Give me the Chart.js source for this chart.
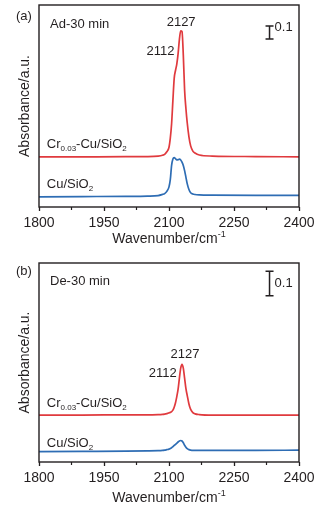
<!DOCTYPE html>
<html><head><meta charset="utf-8">
<script src="https://cdn.jsdelivr.net/npm/chart.js@4/dist/chart.umd.min.js"></script>
<style>
html,body{margin:0;padding:0;background:#fff;}
#wrap{position:relative;width:335px;height:513px;overflow:hidden;}
.pc{position:absolute;left:0;width:335px;}
</style></head><body>
<div id="wrap">
<div class="pc" style="top:0;height:250px"><canvas id="ca"></canvas></div>
<div class="pc" style="top:250px;height:263px"><canvas id="cb"></canvas></div>
</div>
<script>
// ---- data ----
const wavenumbers = [1800,1900,2000,2050,2075,2085,2090,2095,2100,2103,2106,2109,2112,2115,2118,2121,2124,2127,2130,2133,2136,2139,2142,2146,2150,2155,2160,2170,2200,2300,2400];
const adCrCu = [0.385,0.386,0.387,0.388,0.392,0.398,0.405,0.425,0.46,0.53,0.64,0.82,0.99,1.05,1.10,1.18,1.29,1.355,1.35,1.17,0.90,0.76,0.65,0.54,0.47,0.43,0.415,0.40,0.392,0.388,0.386];
const adCu   = [0.078,0.080,0.082,0.084,0.088,0.097,0.103,0.12,0.155,0.21,0.32,0.37,0.38,0.372,0.362,0.364,0.368,0.362,0.345,0.32,0.28,0.23,0.18,0.135,0.11,0.10,0.096,0.093,0.091,0.090,0.090];
const deCrCu = [0.190,0.190,0.191,0.191,0.192,0.193,0.194,0.196,0.199,0.201,0.204,0.21,0.222,0.24,0.265,0.295,0.34,0.38,0.396,0.38,0.34,0.298,0.27,0.235,0.213,0.20,0.195,0.192,0.190,0.190,0.190];
const deCu   = [0.042,0.043,0.044,0.045,0.046,0.047,0.048,0.050,0.052,0.055,0.058,0.062,0.067,0.071,0.076,0.081,0.085,0.087,0.085,0.078,0.068,0.060,0.054,0.050,0.048,0.047,0.047,0.047,0.047,0.047,0.048];
const xTickValues = [1800,1950,2100,2250,2400];
const xMinorTicks = [1875,2025,2175,2325];
const sampleNames = ['Cr0.03-Cu/SiO2','Cu/SiO2'];
const peakLabels = ['2127','2112'];

// ---- style ----
const FAMILY = '"Liberation Sans", Arial, Helvetica, sans-serif';
const FS = 13;     // annotation text
const FSA = 14;    // axis text
const TXT = '#231f20';
const RED = '#e03a3e';
const BLUE = '#2e6db4';
Chart.defaults.font.family = FAMILY;
Chart.defaults.color = TXT;

function runs(ctx, parts, x, y, align, fs){
  const small = Math.round(fs*0.64);
  let w = 0;
  parts.forEach(p=>{ctx.font=(p.sub||p.sup?small:fs)+'px '+FAMILY; w+=ctx.measureText(p.t).width;});
  if(align==='right') x-=w; else if(align==='center') x-=w/2;
  ctx.textAlign='left'; ctx.textBaseline='alphabetic';
  parts.forEach(p=>{
    ctx.font=(p.sub||p.sup?small:fs)+'px '+FAMILY;
    const dy = p.sub ? fs*0.22 : (p.sup ? -fs*0.42 : 0);
    ctx.fillText(p.t, x, y+dy);
    x += ctx.measureText(p.t).width;
  });
}
function crName(){ return [{t:'Cr'},{t:'0.03',sub:true},{t:'-Cu/SiO'},{t:'2',sub:true}]; }
function cuName(){ return [{t:'Cu/SiO'},{t:'2',sub:true}]; }

function makePanel(id, cfg){
  const decor = {
    id:'decor',
    afterDraw(chart){
      const {ctx, chartArea:ca, scales:{x,y}} = chart;
      ctx.save();
      // frame
      ctx.strokeStyle=TXT; ctx.lineWidth=1.4;
      ctx.strokeRect(ca.left, ca.top, ca.right-ca.left, ca.bottom-ca.top);
      // minor ticks
      ctx.lineWidth=1.2;
      xMinorTicks.forEach(v=>{const px=x.getPixelForValue(v); ctx.beginPath(); ctx.moveTo(px,ca.bottom); ctx.lineTo(px,ca.bottom+3); ctx.stroke();});
      // scale bar
      const bx = x.getPixelForValue(cfg.barX), b1=y.getPixelForValue(cfg.barTop), b2=y.getPixelForValue(cfg.barTop-0.1);
      ctx.lineWidth=1.5;
      ctx.beginPath(); ctx.moveTo(bx,b1); ctx.lineTo(bx,b2);
      ctx.moveTo(bx-4,b1); ctx.lineTo(bx+4,b1); ctx.moveTo(bx-4,b2); ctx.lineTo(bx+4,b2); ctx.stroke();
      ctx.fillStyle=TXT;
      ctx.font=FS+'px '+FAMILY; ctx.textBaseline='middle'; ctx.textAlign='left';
      ctx.fillText('0.1', bx+5, cfg.barTextMid ? (b1+b2)/2 : b1+1.5);
      // panel label and condition
      ctx.fillText(cfg.panel, 16, cfg.panelY);
      ctx.fillText(cfg.cond, ca.left+11, ca.top+cfg.condDy);
      // peak labels
      ctx.textAlign='center';
      ctx.fillText(peakLabels[0], x.getPixelForValue(cfg.p1[0]), y.getPixelForValue(cfg.p1[1]));
      ctx.textAlign='right';
      ctx.fillText(peakLabels[1], x.getPixelForValue(cfg.p2[0]), y.getPixelForValue(cfg.p2[1]));
      // sample labels
      runs(ctx, crName(), x.getPixelForValue(1818), y.getPixelForValue(cfg.crY), 'left', FS);
      runs(ctx, cuName(), x.getPixelForValue(1818), y.getPixelForValue(cfg.cuY), 'left', FS);
      // x title
      runs(ctx, [{t:'Wavenumber/cm'},{t:'-1',sup:true}], (ca.left+ca.right)/2, cfg.titleY + FSA*0.36, 'center', FSA);
      ctx.restore();
    }
  };
  return new Chart(document.getElementById(id), {
    type:'line',
    data:{ datasets:[
      {label:sampleNames[0], data:wavenumbers.map((w,i)=>({x:w,y:cfg.cr[i]})), borderColor:RED, borderWidth:1.7, pointRadius:0, cubicInterpolationMode:'monotone', fill:false},
      {label:sampleNames[1], data:wavenumbers.map((w,i)=>({x:w,y:cfg.cu[i]})), borderColor:BLUE, borderWidth:1.7, pointRadius:0, cubicInterpolationMode:'monotone', fill:false}
    ]},
    options:{
      responsive:true, maintainAspectRatio:false, animation:false, devicePixelRatio:1,
      layout:{padding:{top:cfg.top, right:36, left:0, bottom:0}},
      plugins:{legend:{display:false}, tooltip:{enabled:false}},
      scales:{
        x:{type:'linear', min:1800, max:2400,
           afterBuildTicks(s){ s.ticks = xTickValues.map(v=>({value:v})); },
           afterFit(s){ s.height = cfg.xH; },
           ticks:{font:{size:FSA, lineHeight:1}, color:TXT, padding:5, maxRotation:0, autoSkip:false, callback:v=>String(v)},
           grid:{drawOnChartArea:false, drawTicks:true, tickLength:4, tickColor:TXT, tickWidth:1.3},
           border:{display:false}},
        y:{type:'linear', min:0, max:cfg.yMax,
           afterFit(s){ s.width = 39; },
           ticks:{display:false}, grid:{display:false}, border:{display:false},
           title:{display:true, text:'Absorbance/a.u.', color:TXT, font:{size:FSA, lineHeight:1}, padding:{top:25-FSA/2, bottom:0}}}
      }
    },
    plugins:[decor]
  });
}

makePanel('ca', {cr:adCrCu, cu:adCu, top:5, xH:43, yMax:1.554, barX:2332, barTop:1.392, barTextMid:false,
  panel:'(a)', panelY:16, cond:'Ad-30 min', condDy:19, p1:[2128,1.42], p2:[2112.5,1.2], crY:0.454, cuY:0.146, titleY:238});
makePanel('cb', {cr:deCrCu, cu:deCu, top:13, xH:51, yMax:0.806, barX:2332, barTop:0.773, barTextMid:true,
  panel:'(b)', panelY:21, cond:'De-30 min', condDy:18, p1:[2137,0.434], p2:[2118,0.358], crY:0.223, cuY:0.061, titleY:247});
</script>
</body></html>
